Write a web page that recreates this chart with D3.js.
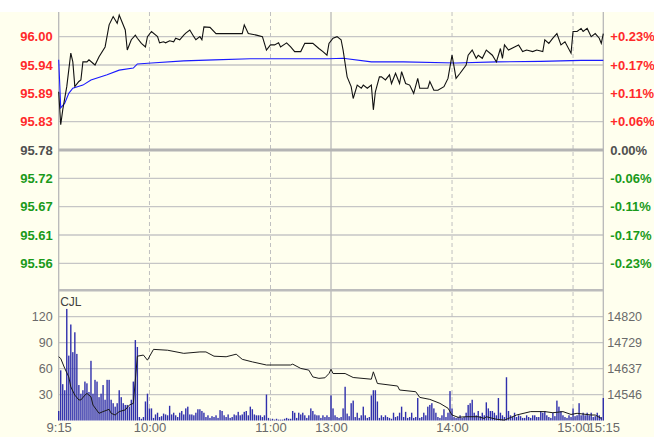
<!DOCTYPE html>
<html><head><meta charset="utf-8">
<script src="https://cdn.jsdelivr.net/npm/d3@7"></script>
<style>body{margin:0;background:#fff}svg{display:block}</style>
</head><body><div id="chart"></div>
<script>
// ---- data ----
const basePrice = 95.78;
const priceStep = 0.055;
const priceTickLabels = ["95.56","95.61","95.67","95.72","95.78","95.83","95.89","95.94","96.00"];
const pctTickLabels = ["-0.23%","-0.17%","-0.11%","-0.06%","0.00%","+0.06%","+0.11%","+0.17%","+0.23%"];
const volTicks = [30,60,90,120];
const oiTickLabels = ["14546","14637","14729","14820"];
const oiBase = 14454.67;
const oiStep = 91.33;
const timeLabels = ["9:15","10:00","11:00","13:00","14:00","15:00","15:15"];
const timeLabelMinute = [0,45,105,135,195,255,270];
const dashedMinutes = [45,105,195,255];
const breakMinute = 135;

const priceMinute = [0,1,2,4,6,7,8,10,11,12,14,15,18,20,23,25,27,29,30,33,34,36,38,39,41,43,44,46,49,50,52,53,55,57,58,60,62,63,65,67,68,70,71,72,75,78,91,92,94,98,101,103,105,107,109,110,113,115,117,120,122,126,129,131,133,134,136,138,140,141,143,145,146,148,150,151,153,155,156,157,159,160,162,164,165,167,169,170,172,174,176,178,179,183,184,186,188,191,193,195,196,197,199,202,203,205,207,208,210,212,215,217,219,220,221,223,226,228,230,232,235,237,240,241,243,245,247,249,251,254,255,257,259,260,262,264,266,268,269,270];
const priceValue = [95.893,95.829,95.858,95.903,95.968,95.951,95.903,95.913,95.916,95.951,95.951,95.955,95.945,95.961,95.980,96.023,96.039,96.026,96.042,96.013,95.974,95.994,96.003,95.997,95.987,95.980,96.000,96.010,96.000,95.988,95.990,95.988,95.992,95.990,95.997,95.994,96.003,96.007,96.013,96.000,95.994,96.000,95.994,96.019,96.018,96.006,96.006,96.023,96.006,96.003,96.000,95.974,95.984,95.984,95.988,95.980,95.988,95.980,95.971,95.971,95.987,95.987,95.977,95.971,95.964,95.987,95.997,96.000,95.994,95.974,95.922,95.903,95.880,95.906,95.900,95.906,95.900,95.906,95.858,95.893,95.922,95.922,95.916,95.926,95.909,95.929,95.909,95.932,95.909,95.906,95.890,95.919,95.900,95.900,95.913,95.896,95.896,95.903,95.919,95.964,95.942,95.919,95.929,95.945,95.964,95.974,95.958,95.964,95.958,95.974,95.964,95.951,95.977,95.958,95.984,95.974,95.980,95.984,95.971,95.974,95.971,95.974,95.971,95.994,95.987,95.997,96.006,95.984,95.990,95.968,96.010,96.010,96.016,96.010,96.016,96.000,96.006,95.997,95.987,96.006];

const avgMinute = [0,1,3,5,7,12,16,24,30,37,39,46,62,77,95,134,141,155,171,197,217,239,259,270];
const avgValue = [95.955,95.862,95.871,95.890,95.900,95.906,95.916,95.926,95.935,95.939,95.947,95.949,95.953,95.955,95.957,95.957,95.958,95.951,95.951,95.949,95.951,95.952,95.954,95.954];

const volMorning = [11,58,42,35,129,75,111,79,102,77,41,31,35,45,43,33,69,31,47,45,27,31,41,24,47,47,24,20,16,20,35,27,20,18,18,16,24,45,93,85,4,2,4,22,31,14,14,3,7,9,4,5,8,7,6,17,7,9,6,4,9,11,7,14,16,7,7,6,9,13,13,11,9,4,6,3,5,4,6,3,12,11,6,4,7,3,4,7,6,10,6,7,10,11,6,16,13,7,6,6,6,4,6,30,3,1,2,1,2,1,1,1,2,3,2,2,11,9,3,9,7,9,6,3,6,14,11,7,6,6,3,6,4,6,4];
const volAfternoon = [29,14,6,4,3,4,14,39,8,5,20,23,4,9,3,6,16,6,3,4,29,35,35,22,3,6,4,6,4,3,2,9,4,5,9,16,4,10,3,4,9,3,4,26,3,4,9,6,16,18,20,14,9,4,3,6,13,4,9,34,14,4,3,4,6,3,4,9,18,20,24,9,6,11,5,9,6,21,14,11,11,9,6,26,9,6,4,50,11,6,4,9,4,6,5,3,3,6,4,3,6,6,4,4,11,9,11,6,4,3,9,5,23,16,11,6,4,3,6,4,14,5,6,20,6,9,6,9,6,9,4,5,9,6,4,26];

const oiMinute = [0,1,3,5,6,8,10,11,13,14,16,17,20,22,25,26,28,30,33,35,37,38,39,42,44,47,54,62,70,73,77,83,88,91,96,103,115,116,120,124,126,129,132,134,135,136,142,146,155,156,158,168,169,177,179,184,189,193,195,198,202,208,211,212,217,221,224,227,234,241,245,250,254,257,264,266,269];
const oiValue = [14679,14673,14638,14608,14573,14544,14527,14527,14544,14550,14538,14509,14480,14486,14494,14480,14474,14486,14492,14509,14515,14597,14681,14685,14667,14705,14702,14691,14696,14696,14681,14679,14688,14670,14661,14650,14650,14653,14638,14632,14608,14603,14605,14620,14635,14620,14620,14606,14600,14626,14585,14576,14562,14556,14536,14529,14515,14498,14474,14466,14468,14468,14462,14468,14459,14456,14465,14474,14486,14486,14482,14486,14476,14480,14474,14474,14462];

// ---- layout ----
const W = 654, H = 437;
const plotL = 58.7, plotR = 603.3, plotT = 12;
const zeroY = 150, halfH = 113.33;
const priceBottom = 289.5, volTop = 291, volBottom = 420.5;
const cream = "#ffffee", gridC = "#c6c6c6";
const red = "#ff2a2a", green = "#1a9a1a", neutral = "#505050";
const font = "'Liberation Sans', Arial, sans-serif";

const volume = volMorning.concat(volAfternoon);

const x = d3.scaleLinear().domain([0, 270]).range([plotL, plotR]);
const yP = d3.scaleLinear().domain([basePrice - 4*priceStep, basePrice + 4*priceStep]).range([zeroY + halfH, zeroY - halfH]);
const yV = d3.scaleLinear().domain([0, 120]).range([volBottom, volBottom - 103.8]);
const yOI = d3.scaleLinear().domain([oiBase, oiBase + 4*oiStep]).range([volBottom, volBottom - 103.8]);

const svg = d3.select("#chart").append("svg").attr("width", W).attr("height", H);
svg.append("rect").attr("width", W).attr("height", H).attr("fill", cream);
svg.append("rect").attr("width", W).attr("height", plotT).attr("fill", "#ffffff");

const priceTicks = d3.range(-4, 5).map(k => basePrice + k*priceStep);

// horizontal grid (price)
svg.append("g").selectAll("line").data(priceTicks.filter((d,i)=>i!==4)).join("line")
  .attr("x1", plotL).attr("x2", plotR).attr("y1", d=>yP(d)).attr("y2", d=>yP(d))
  .attr("stroke", gridC).attr("stroke-width", 1.3);
// volume grid
svg.append("g").selectAll("line").data(volTicks).join("line")
  .attr("x1", plotL).attr("x2", plotR).attr("y1", d=>yV(d)).attr("y2", d=>yV(d))
  .attr("stroke", gridC).attr("stroke-width", 1.3);
// vertical dashed
svg.append("g").selectAll("line").data(dashedMinutes).join("line")
  .attr("x1", d=>x(d)).attr("x2", d=>x(d)).attr("y1", plotT).attr("y2", volBottom)
  .attr("stroke", "#c0c0c0").attr("stroke-width", 1).attr("stroke-dasharray", "4,3");
// solid verticals: borders + break
svg.append("g").selectAll("line").data([0, breakMinute, 270]).join("line")
  .attr("x1", d=>x(d)).attr("x2", d=>x(d)).attr("y1", plotT).attr("y2", volBottom)
  .attr("stroke", "#b8b8b8").attr("stroke-width", 1.3);
// zero line
svg.append("line").attr("x1", plotL).attr("x2", plotR).attr("y1", yP(basePrice)).attr("y2", yP(basePrice))
  .attr("stroke", "#b4b4b4").attr("stroke-width", 3);
// panel separator
svg.append("line").attr("x1", plotL).attr("x2", plotR).attr("y1", (priceBottom+volTop)/2).attr("y2", (priceBottom+volTop)/2)
  .attr("stroke", "#bcbcbc").attr("stroke-width", 2.5);

// left price axis
const colorFor = i => i > 4 ? red : (i < 4 ? green : neutral);
const leftAx = svg.append("g").attr("transform", `translate(${plotL - 6},0)`)
  .call(d3.axisLeft(yP).tickValues(priceTicks).tickSize(0).tickPadding(0).tickFormat((d,i)=>priceTickLabels[i]));
leftAx.select(".domain").remove();
leftAx.selectAll("text").attr("font-family", font).attr("font-size", 13).attr("font-weight", "bold")
  .attr("fill", (d,i)=>colorFor(i));
const rightAx = svg.append("g").attr("transform", `translate(${plotR + 7},0)`)
  .call(d3.axisRight(yP).tickValues(priceTicks).tickSize(0).tickPadding(0).tickFormat((d,i)=>pctTickLabels[i]));
rightAx.select(".domain").remove();
rightAx.selectAll("text").attr("font-family", font).attr("font-size", 13).attr("font-weight", "bold")
  .attr("fill", (d,i)=>colorFor(i));

// volume axes
const vAx = svg.append("g").attr("transform", `translate(${plotL - 6},0)`)
  .call(d3.axisLeft(yV).tickValues(volTicks).tickSize(0).tickPadding(0));
vAx.select(".domain").remove();
vAx.selectAll("text").attr("font-family", font).attr("font-size", 12.5).attr("fill", "#6a6a6a");
const oiTicks = d3.range(1, 5).map(k => oiBase + k*oiStep);
const oAx = svg.append("g").attr("transform", `translate(${plotR + 4},0)`)
  .call(d3.axisRight(yOI).tickValues(oiTicks).tickSize(0).tickPadding(0).tickFormat((d,i)=>oiTickLabels[i]));
oAx.select(".domain").remove();
oAx.selectAll("text").attr("font-family", font).attr("font-size", 12.5).attr("fill", "#6a6a6a");

// time axis
const tAx = svg.append("g").attr("transform", `translate(0,${volBottom + 2})`)
  .call(d3.axisBottom(x).tickValues(timeLabelMinute).tickSize(0).tickPadding(0).tickFormat((d,i)=>timeLabels[i]));
tAx.select(".domain").remove();
tAx.selectAll("text").attr("font-family", font).attr("font-size", 13).attr("fill", "#6a6a6a").attr("dy", "0.72em");

// CJL label
svg.append("text").attr("x", plotL + 1.5).attr("y", volTop + 15).text("CJL")
  .attr("font-family", font).attr("font-size", 12).attr("fill", "#404040");

// volume bars
svg.append("g").selectAll("rect").data(volume).join("rect")
  .attr("x", (d,i)=>x(i) - 0.7).attr("width", 1.4)
  .attr("y", d=>yV(d)).attr("height", d=>volBottom - yV(d))
  .attr("fill", "#3030ac");

// open interest line
svg.append("path").datum(oiMinute.map((m,i)=>[m, oiValue[i]]))
  .attr("d", d3.line().x(d=>x(d[0])).y(d=>yOI(d[1])))
  .attr("fill", "none").attr("stroke", "#1a1a1a").attr("stroke-width", 1);

// average price line
svg.append("path").datum(avgMinute.map((m,i)=>[m, avgValue[i]]))
  .attr("d", d3.line().x(d=>x(d[0])).y(d=>yP(d[1])))
  .attr("fill", "none").attr("stroke", "#1a1aff").attr("stroke-width", 1.1);

// price line
svg.append("path").datum(priceMinute.map((m,i)=>[m, priceValue[i]]))
  .attr("d", d3.line().x(d=>x(d[0])).y(d=>yP(d[1])))
  .attr("fill", "none").attr("stroke", "#111").attr("stroke-width", 1.1);
</script></body></html>
